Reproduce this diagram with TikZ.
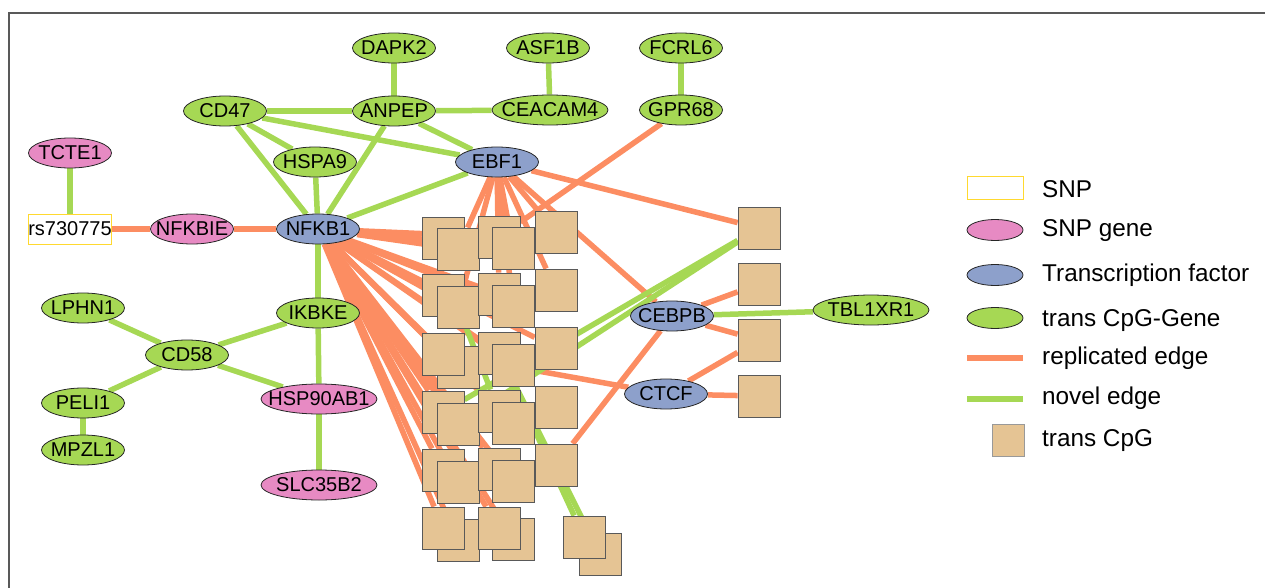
\documentclass[tikz,border=0pt]{standalone}
\usepackage{fontspec}
\setmainfont{Liberation Sans}
\usetikzlibrary{shapes.geometric,backgrounds}
\definecolor{cgreen}{HTML}{A6D854}
\definecolor{corange}{HTML}{FC8D62}
\definecolor{cpink}{HTML}{E78AC3}
\definecolor{cblue}{HTML}{8DA0CB}
\definecolor{ctan}{HTML}{E5C494}
\definecolor{cyel}{HTML}{FFD92F}
\newcommand\ctext[1]{\makebox[0pt]{#1}}
\begin{document}
\begin{tikzpicture}[x=1pt,y=-1pt,
  base/.style={ellipse, draw=black!85, line width=0.8pt, minimum width=83pt, minimum height=30pt, inner sep=0pt, font=\fontsize{20}{22}\selectfont},
  gnode/.style={base, fill=cgreen},
  pnode/.style={base, fill=cpink},
  bnode/.style={base, fill=cblue},
  wide/.style={minimum width=116pt},
  snpbox/.style={rectangle, draw=cyel, fill=white, line width=1pt, minimum width=83pt, minimum height=30pt, inner sep=0pt, font=\fontsize{20}{22}\selectfont},
  cpg/.style={rectangle, minimum size=42pt, inner sep=0pt, fill=ctan, draw=black!65, line width=0.8pt},
  nov/.style={draw=cgreen, line width=5.5pt},
  rep/.style={draw=corange, line width=5.5pt},
  legtext/.style={anchor=base west, inner sep=0pt, font=\fontsize{24.3}{27}\selectfont},
]
\useasboundingbox (0,0) rectangle (1265,588);
\draw[black!65, line width=1.5pt] (9,588) -- (9,13) -- (1265,13);

% gene nodes
\node[gnode] (dapk2) at (394,48) {\ctext{DAPK2}};
\node[gnode] (asf1b) at (548,48) {\ctext{ASF1B}};
\node[gnode] (fcrl6) at (681,48) {\ctext{FCRL6}};
\node[gnode] (cd47) at (225,111) {\ctext{CD47}};
\node[gnode] (anpep) at (394,111) {\ctext{ANPEP}};
\node[gnode,wide] (ceacam4) at (550,110) {\ctext{CEACAM4}};
\node[gnode] (gpr68) at (681,110) {\ctext{GPR68}};
\node[pnode] (tcte1) at (70,153) {\ctext{TCTE1}};
\node[gnode] (hspa9) at (315,162) {\ctext{HSPA9}};
\node[bnode] (ebf1) at (497,162) {\ctext{EBF1}};
\node[snpbox] (rs) at (70,229) {\ctext{rs730775}};
\node[pnode] (nfkbie) at (192,229) {\ctext{NFKBIE}};
\node[bnode] (nfkb1) at (318,229) {\ctext{NFKB1}};
\node[gnode] (lphn1) at (83,308) {\ctext{LPHN1}};
\node[gnode] (ikbke) at (318,313) {\ctext{IKBKE}};
\node[gnode] (cd58) at (187,355) {\ctext{CD58}};
\node[gnode] (peli1) at (83,403) {\ctext{PELI1}};
\node[pnode,wide] (hsp) at (319,399) {\ctext{HSP90AB1}};
\node[gnode] (mpzl1) at (83,450) {\ctext{MPZL1}};
\node[pnode,wide] (slc) at (319,485) {\ctext{SLC35B2}};
\node[bnode] (cebpb) at (672,316) {\ctext{CEBPB}};
\node[bnode] (ctcf) at (666,394) {\ctext{CTCF}};
\node[gnode,wide] (tbl) at (871,310) {\ctext{TBL1XR1}};

% CpG squares
\node[cpg] (A1b) at (443,238) {};
\node[cpg] (A1f) at (458,249) {};
\node[cpg] (B1b) at (499,237) {};
\node[cpg] (B1f) at (513,248) {};
\node[cpg] (C1) at (556,232) {};
\node[cpg] (A2b) at (443,295) {};
\node[cpg] (A2f) at (458,307) {};
\node[cpg] (B2b) at (499,294) {};
\node[cpg] (B2f) at (513,306) {};
\node[cpg] (C2) at (556,290) {};
\node[cpg] (A3f) at (458,367) {};
\node[cpg] (A3b) at (443,354) {};
\node[cpg] (B3b) at (499,353) {};
\node[cpg] (B3f) at (513,365) {};
\node[cpg] (C3) at (556,348) {};
\node[cpg] (A4b) at (443,412) {};
\node[cpg] (A4f) at (458,424) {};
\node[cpg] (B4b) at (499,411) {};
\node[cpg] (B4f) at (513,423) {};
\node[cpg] (C4) at (556,407) {};
\node[cpg] (A5b) at (443,470) {};
\node[cpg] (A5f) at (458,482) {};
\node[cpg] (B5b) at (499,469) {};
\node[cpg] (B5f) at (513,481) {};
\node[cpg] (C5) at (556,465) {};
\node[cpg] (A6f) at (458,540) {};
\node[cpg] (A6b) at (443,528) {};
\node[cpg] (B6f) at (513,539) {};
\node[cpg] (B6b) at (499,528) {};
\node[cpg] (P2) at (600,554) {};
\node[cpg] (P1) at (584,537) {};
\node[cpg] (R1) at (759,228) {};
\node[cpg] (R2) at (759,284) {};
\node[cpg] (R3) at (759,340) {};
\node[cpg] (R4) at (759,396) {};

\begin{scope}[on background layer]
  % replicated edges
  \draw[rep] (rs) -- (nfkbie);
  \draw[rep] (nfkbie) -- (nfkb1);
  \draw[rep] (gpr68) -- (B1b);
  \draw[rep] (ebf1) -- (R1);
  \draw[rep] (ebf1) -- (cebpb);
  \foreach \t in {A1f,A2f,B1b,B1f,B2b,B2f,C1,C2}
    \draw[rep] (ebf1) -- (\t);
  \draw[rep] (cebpb) -- (R2);
  \draw[rep] (cebpb) -- (R3);
  \draw[rep] (ctcf) -- (R3);
  \draw[rep] (ctcf) -- (R4);
  \draw[rep] (cebpb) -- (C5);
  \draw[rep] (A3b) -- (ctcf);
  \draw[rep] (nfkb1) -- (C3);
  \foreach \t in {A1b,A1f,B1b,B1f,A2b,A2f,B2b,B2f,A3b,A3f,B3b,B3f,A4b,A4f,B4b,B4f,A5b,A5f,B5b,B5f,A6b,A6f,B6b,B6f}
    \draw[rep] (nfkb1) -- (\t);
  % novel edges
  \draw[nov] (dapk2) -- (anpep);
  \draw[nov] (asf1b) -- (ceacam4);
  \draw[nov] (fcrl6) -- (gpr68);
  \draw[nov] (cd47) -- (anpep);
  \draw[nov] (anpep) -- (ceacam4);
  \draw[nov] (cd47) -- (hspa9);
  \draw[nov] (cd47) -- (nfkb1);
  \draw[nov] (cd47) -- (ebf1);
  \draw[nov] (anpep) -- (ebf1);
  \draw[nov] (anpep) -- (nfkb1);
  \draw[nov] (hspa9) -- (nfkb1);
  \draw[nov] (nfkb1) -- (ebf1);
  \draw[nov] (tcte1) -- (rs);
  \draw[nov] (nfkb1) -- (ikbke);
  \draw[nov] (ikbke) -- (cd58);
  \draw[nov] (ikbke) -- (hsp);
  \draw[nov] (lphn1) -- (cd58);
  \draw[nov] (cd58) -- (peli1);
  \draw[nov] (cd58) -- (hsp);
  \draw[nov] (peli1) -- (mpzl1);
  \draw[nov] (hsp) -- (slc);
  \draw[nov] (cebpb) -- (tbl);
  \draw[nov] (R1) -- (A4b);
  \draw[nov] (R1) -- (A4f);
  \draw[nov] (B3b) -- (P1);
  \draw[nov] (B3b) -- (P2);
  \draw[nov] (A2f) -- (B4b);
\end{scope}

% legend
\node[snpbox, minimum width=56pt, minimum height=22pt] (lsnp) at (995,188) {};
\node[pnode, minimum width=56pt, minimum height=21pt] (lpink) at (995,230) {};
\node[bnode, minimum width=56pt, minimum height=21pt] (lblue) at (995,275) {};
\node[gnode, minimum width=56pt, minimum height=21pt] (lgreen) at (995,318) {};
\coordinate (lr1) at (967,358);
\coordinate (lr2) at (1023,358);
\coordinate (ln1) at (967,399);
\coordinate (ln2) at (1023,399);
\draw[rep] (lr1) -- (lr2);
\draw[nov] (ln1) -- (ln2);
\node[rectangle, minimum size=32pt, inner sep=0pt, fill=ctan, draw=black!40, line width=0.6pt] (lcpg) at (1008,440) {};
\node[legtext] (t1) at (1042,197) {SNP};
\node[legtext] (t2) at (1042,236) {SNP gene};
\node[legtext] (t3) at (1042,281) {Transcription factor};
\node[legtext] (t4) at (1042,326) {trans CpG-Gene};
\node[legtext] (t5) at (1042,364) {replicated edge};
\node[legtext] (t6) at (1042,404) {novel edge};
\node[legtext] (t7) at (1042,446) {trans CpG};
\end{tikzpicture}
\end{document}
